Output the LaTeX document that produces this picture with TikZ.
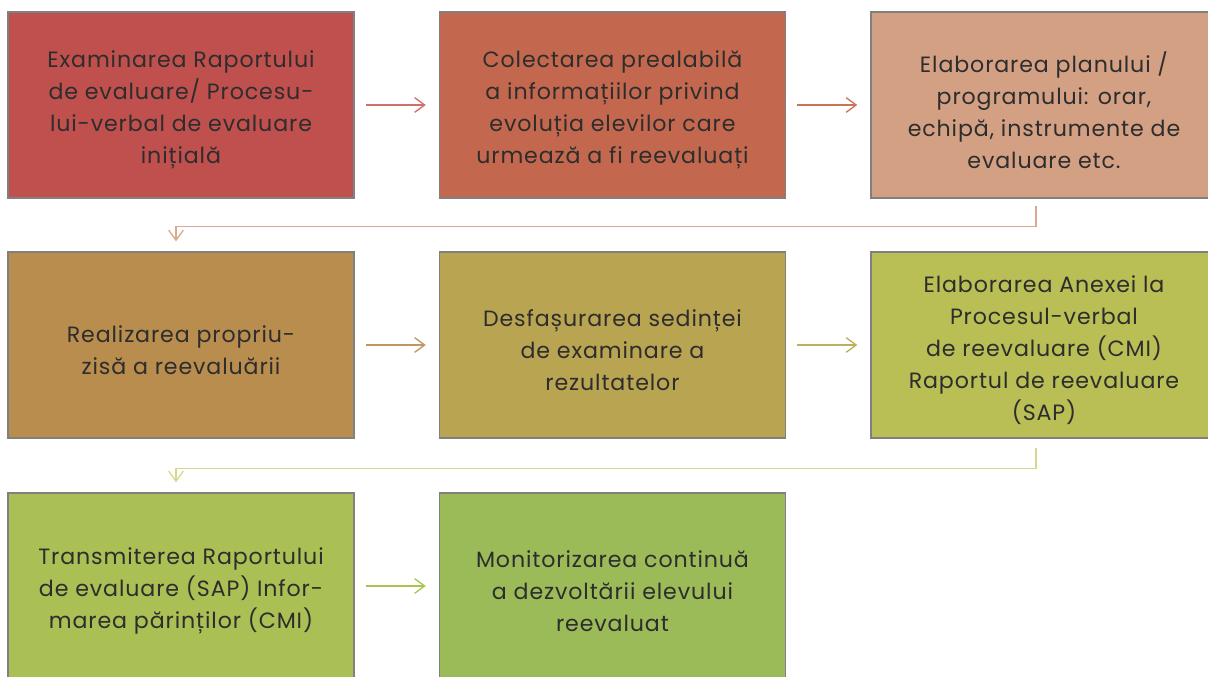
\documentclass[tikz,border=0pt]{standalone}
\usepackage{fontspec}
\setmainfont{Poppins}[LetterSpace=4]
\usetikzlibrary{arrows.meta}
\definecolor{cA}{RGB}{192,80,77}
\definecolor{cB}{RGB}{195,104,78}
\definecolor{cC}{RGB}{212,160,132}
\definecolor{cD}{RGB}{185,141,78}
\definecolor{cE}{RGB}{185,164,81}
\definecolor{cF}{RGB}{185,190,85}
\definecolor{cG}{RGB}{170,192,85}
\definecolor{cH}{RGB}{155,187,89}
\definecolor{bord}{RGB}{128,128,128}
\definecolor{txt}{RGB}{45,45,45}
\definecolor{aA}{RGB}{208,112,106}
\definecolor{aB}{RGB}{204,116,90}
\definecolor{aC}{RGB}{218,168,140}
\definecolor{aD}{RGB}{190,150,95}
\definecolor{aE}{RGB}{190,176,90}
\definecolor{aF}{RGB}{214,216,140}
\definecolor{aG}{RGB}{170,196,80}
\tikzset{
  box/.style={draw=bord, line width=1.1pt, minimum width=259.5pt, minimum height=139.5pt, inner sep=0pt},
  lbl/.style={inner sep=0pt, align=center, text=txt, font=\fontsize{16.6}{24}\selectfont},
  flow/.style={line width=1pt, -{Straight Barb[length=7.5pt,width=11pt]}},
}
\begin{document}
\begin{tikzpicture}[x=0.75pt,y=-0.75pt]
\useasboundingbox (0,0) rectangle (1208,677);
\node[box, fill=cA] (b1) at (181,105) {};
\node[box, fill=cB] (b2) at (612.5,105) {};
\node[box, fill=cC] (b3) at (1044,105) {};
\node[box, fill=cD] (b4) at (181,345) {};
\node[box, fill=cE] (b5) at (612.5,345) {};
\node[box, fill=cF] (b6) at (1044,345) {};
\node[box, fill=cG] (b7) at (181,586) {};
\node[box, fill=cH] (b8) at (612.5,586) {};
\node[lbl] (t1) at ([yshift=-3.75pt]b1.center) {Examinarea Raportului\\de evaluare/ Procesu-\\lui-verbal de evaluare\\inițială};
\node[lbl] (t2) at ([yshift=-3.75pt]b2.center) {Colectarea prealabilă\\a informațiilor privind\\evoluția elevilor care\\urmează a fi reevaluați};
\node[lbl] (t3) at ([yshift=-3.75pt]b3.center) {Elaborarea planului /\\programului: orar,\\echipă, instrumente de\\evaluare etc.};
\node[lbl] (t4) at ([yshift=-3.75pt]b4.center) {Realizarea propriu-\\zisă a reevaluării};
\node[lbl] (t5) at ([yshift=-3.75pt]b5.center) {Desfașurarea sedinței\\de examinare a\\rezultatelor};
\node[lbl] (t6) at ([yshift=-3.75pt]b6.center) {Elaborarea Anexei la\\Procesul-verbal\\de reevaluare (CMI)\\Raportul de reevaluare\\(SAP)};
\node[lbl] (t7) at ([yshift=-3.75pt]b7.center) {Transmiterea Raportului\\de evaluare (SAP) Infor-\\marea părinților (CMI)};
\node[lbl] (t8) at ([yshift=-3.75pt]b8.center) {Monitorizarea continuă\\a dezvoltării elevului\\reevaluat};
\draw[flow, aA] ([xshift=8.25pt]b1.east) -- ([xshift=-9.75pt]b2.west);
\draw[flow, aB] ([xshift=8.25pt]b2.east) -- ([xshift=-9.75pt]b3.west);
\draw[flow, aD] ([xshift=8.25pt]b4.east) -- ([xshift=-9.75pt]b5.west);
\draw[flow, aE] ([xshift=8.25pt]b5.east) -- ([xshift=-9.75pt]b6.west);
\draw[flow, aG] ([xshift=8.25pt]b7.east) -- ([xshift=-9.75pt]b8.west);
\draw[flow, aC] ([xshift=-6pt,yshift=-5.25pt]b3.south) -- ++(0,21) -| ([xshift=-3.75pt,yshift=7.5pt]b4.north);
\draw[flow, aF] ([xshift=-6pt,yshift=-6.75pt]b6.south) -- ++(0,21) -| ([xshift=-3.75pt,yshift=7.5pt]b7.north);
\end{tikzpicture}
\end{document}
